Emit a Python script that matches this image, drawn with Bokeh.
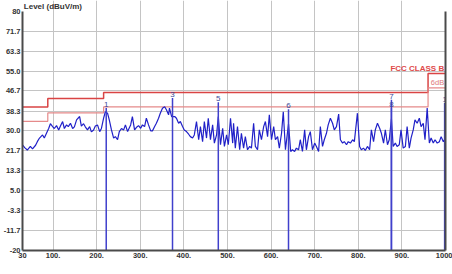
from bokeh.plotting import figure
from bokeh.models import FixedTicker, LinearAxis, Label, ColumnDataSource
from bokeh.core.properties import value
from bokeh.embed import file_html
from bokeh.resources import INLINE

# ---- data ----
x_tick_labels = ["30", "100.", "200.", "300.", "400.", "500.", "600.", "700.", "800.", "900.", "1000"]
y_tick_labels = ["-20", "-11.7", "-3.3", "5.0", "13.3", "21.7", "30.0", "38.3", "46.7", "55.0", "63.3", "71.7", "80"]

band_edges = [30, 88, 216, 960, 1000]          # MHz
fcc_class_b = [40.0, 43.5, 46.0, 54.0]          # dBuV/m
fcc_margin = [34.0, 37.5, 40.0, 48.0]           # limit - 6 dB

trace_freq = [30, 35, 41, 48, 53, 60, 64, 69, 76, 80, 85, 90, 94, 99, 103, 108, 113, 117, 122, 126,
              131, 135, 140, 145, 149, 154, 161, 165, 170, 174, 179, 184, 188, 193, 197, 202, 207, 211, 216, 220,
              225, 229, 234, 239, 243, 248, 252, 257, 262, 266, 271, 278, 282, 287, 291, 296, 301, 305, 310, 314,
              319, 324, 328, 333, 337, 342, 346, 351, 356, 360, 365, 367, 372, 379, 383, 388, 392, 397, 401, 406,
              411, 415, 420, 424, 429, 434, 438, 443, 447, 452, 456, 461, 466, 470, 475, 479, 484, 489, 493, 498,
              502, 507, 512, 514, 518, 523, 528, 532, 537, 541, 546, 551, 555, 560, 564, 569, 573, 578, 583, 587,
              592, 596, 601, 606, 610, 615, 619, 624, 628, 633, 640, 645, 649, 654, 658, 663, 667, 672, 677, 681,
              686, 690, 695, 700, 704, 709, 713, 718, 722, 727, 731, 736, 741, 745, 750, 755, 759, 764, 768, 773,
              777, 782, 787, 791, 798, 803, 807, 812, 816, 821, 826, 830, 835, 839, 844, 849, 853, 858, 862, 867,
              871, 876, 880, 885, 889, 894, 898, 903, 908, 912, 917, 921, 926, 930, 935, 940, 944, 949, 953, 958,
              963, 967, 972, 976, 981, 986, 990, 995, 1000]
trace_level = [24.2, 23.0, 22.0, 23.5, 22.5, 24.0, 25.5, 27.0, 28.3, 27.0, 29.0, 31.0, 33.0, 31.8, 31.0, 32.2, 30.4, 32.0, 33.9, 31.0,
               32.5, 31.8, 33.2, 31.0, 31.7, 34.6, 36.0, 32.0, 33.0, 31.7, 30.4, 31.8, 29.6, 30.4, 32.0, 32.5, 29.7, 31.0, 35.3, 38.0,
               37.4, 34.6, 30.4, 27.0, 27.6, 26.3, 29.7, 31.0, 30.4, 32.5, 29.7, 32.5, 36.0, 30.4, 31.4, 32.2, 31.1, 32.5, 31.8, 35.3,
               32.5, 30.0, 30.0, 31.8, 33.2, 35.3, 37.4, 39.5, 40.1, 38.8, 36.7, 39.5, 36.0, 36.0, 35.3, 33.2, 33.9, 31.8, 30.4, 29.7,
               28.6, 27.6, 27.0, 28.3, 33.9, 26.3, 31.8, 25.5, 33.9, 27.0, 35.3, 26.3, 32.5, 24.9, 28.3, 36.0, 24.2, 31.1, 23.5, 28.3,
               24.2, 35.3, 24.9, 33.2, 22.8, 31.8, 22.1, 29.0, 22.8, 27.6, 22.1, 23.5, 22.8, 33.2, 23.5, 22.1, 30.4, 26.3, 31.8, 33.9,
               27.6, 36.7, 26.3, 31.8, 26.3, 27.6, 22.8, 29.0, 38.0, 22.1, 33.0, 21.4, 22.1, 21.4, 22.8, 22.1, 26.3, 21.4, 30.4, 22.1,
               27.6, 29.7, 22.1, 24.9, 23.5, 21.4, 31.8, 23.5, 26.3, 29.0, 32.5, 35.3, 33.2, 30.4, 31.8, 37.0, 26.3, 24.9, 25.5, 24.2,
               25.5, 24.9, 26.3, 25.5, 37.4, 23.5, 22.1, 22.8, 21.8, 23.5, 22.1, 30.4, 25.5, 30.4, 33.2, 31.1, 29.0, 24.9, 30.4, 24.2,
               26.3, 35.0, 23.5, 24.9, 23.5, 24.2, 30.4, 22.8, 23.5, 31.8, 22.8, 27.0, 30.4, 34.6, 33.2, 35.3, 31.8, 33.2, 26.3, 39.5,
               24.9, 27.0, 24.9, 26.3, 24.9, 25.5, 27.6, 25.5, 27.0]

marker_freq = [222, 374, 479, 640, 876, 876, 998]
marker_level = [39.6, 43.7, 42.0, 39.0, 43.0, 39.6, 41.7]
marker_labels = ["1", "3", "5", "6", "7", "8", "1"]

# ---- figure ----
FONT = "Liberation Sans"
p = figure(width=452, height=274, x_range=(30, 1000), y_range=(-20, 84.5),
           output_backend="svg", toolbar_location=None,
           min_border_left=20, min_border_right=7, min_border_top=0, min_border_bottom=24,
           background_fill_color="white", border_fill_color="white")
p.outline_line_color = None

x_ticks = [float(s) for s in x_tick_labels]
y_ticks = [float(s) for s in y_tick_labels]

p.xaxis.ticker = FixedTicker(ticks=x_ticks)
p.xaxis.major_label_overrides = {t: s for t, s in zip(x_ticks, x_tick_labels)}
p.yaxis.ticker = FixedTicker(ticks=y_ticks)
p.yaxis.major_label_overrides = {t: s for t, s in zip(y_ticks, y_tick_labels)}
p.yaxis.bounds = (-20, 80)

for ax in (p.xaxis[0], p.yaxis[0]):
    ax.axis_line_color = "#4a4a4a"
    ax.axis_line_width = 2
    ax.major_tick_line_color = None
    ax.minor_tick_line_color = None
    ax.major_tick_out = 0
    ax.major_tick_in = 0
    ax.minor_tick_out = 0
    ax.minor_tick_in = 0
    ax.major_label_standoff = 2
    ax.major_label_text_font = FONT
    ax.major_label_text_font_size = "7.5px"
    ax.major_label_text_font_style = "bold"
    ax.major_label_text_color = "#333333"

right_axis = LinearAxis(bounds=(-20, 80), ticker=FixedTicker(ticks=[]),
                        major_label_text_font_size="0px",
                        major_tick_line_color=None, minor_tick_line_color=None,
                        major_tick_out=0, major_tick_in=0, minor_tick_out=0, minor_tick_in=0,
                        axis_line_color="#4a4a4a", axis_line_width=2)
p.add_layout(right_axis, "right")

p.xgrid.grid_line_color = "#c4c4c4"
p.xgrid.grid_line_width = 1
p.ygrid.ticker = FixedTicker(ticks=y_ticks[:-1])
p.ygrid.grid_line_color = "#c4c4c4"
p.ygrid.grid_line_width = 1

# limit lines
p.step(x=band_edges, y=fcc_class_b + [fcc_class_b[-1]], mode="after",
       line_color="#d94444", line_width=1.5)
p.step(x=band_edges, y=fcc_margin + [fcc_margin[-1]], mode="after",
       line_color="#e58a8a", line_width=1.2)

# spectrum trace
p.line(trace_freq, trace_level, line_color="#2020c8", line_width=1.2)

# markers
msrc = ColumnDataSource(dict(f=marker_freq, lvl=marker_level, lab=marker_labels,
                             base=[-20] * len(marker_freq)))
p.segment(x0="f", y0="base", x1="f", y1="lvl", source=msrc,
          line_color="#4040cc", line_width=1.5)
p.text(x="f", y="lvl", text="lab", source=msrc, text_align="center", text_baseline="bottom",
       y_offset=-1, text_font=value(FONT), text_font_size="8px", text_color="#3a4a9a")

# limit labels
p.text(x=[997], y=[56.0], text=["FCC CLASS B"], text_align="right", text_baseline="middle",
       text_font=value(FONT), text_font_size="8px", text_font_style="bold", text_color="#e04848")
p.text(x=[997], y=[50.3], text=["6dB"], text_align="right", text_baseline="middle",
       text_font=value(FONT), text_font_size="7.5px", text_color="#e07a7a")

# titles
p.add_layout(Label(x=33, y=81.8, text="Level (dBuV/m)", text_align="left", text_baseline="middle",
                   text_font=FONT, text_font_size="8px", text_font_style="bold", text_color="#333333"))
p.add_layout(Label(x=493, y=-27.2, text="Frequency (MHz)", text_align="center", text_baseline="middle",
                   text_font=FONT, text_font_size="8.5px", text_font_style="bold", text_color="#333333"))

open("out.html", "w").write(file_html(p, INLINE))
